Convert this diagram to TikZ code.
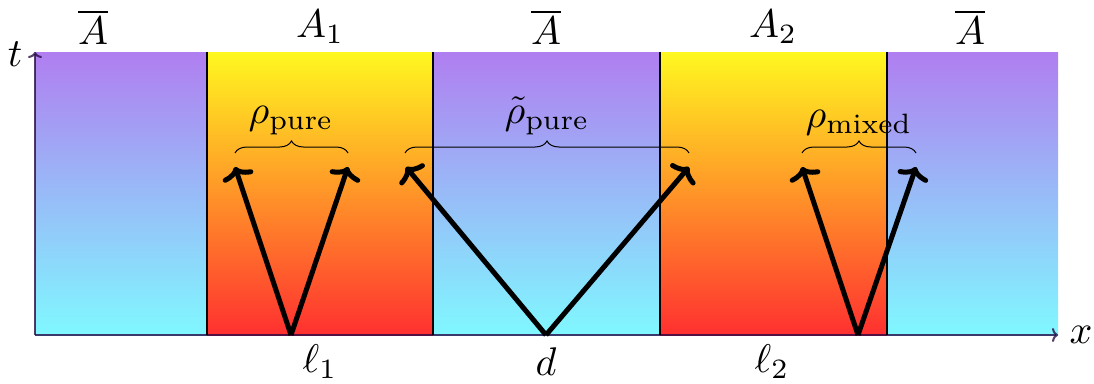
\documentclass[tikz,border=0pt]{standalone}
\usepackage{amsmath}
\usetikzlibrary{decorations.pathreplacing,arrows.meta}
\definecolor{abtop}{RGB}{176,126,240}
\definecolor{abbot}{RGB}{128,248,255}
\definecolor{atop}{RGB}{255,248,32}
\definecolor{abot}{RGB}{255,48,48}
\definecolor{axiscol}{RGB}{40,10,70}
\begin{document}
\begin{tikzpicture}[x=1pt,y=-1pt,
  lbl/.style={scale=4, inner sep=0pt},
  abar/.style={top color=abtop, bottom color=abbot, draw=none},
  areg/.style={top color=atop, bottom color=abot, draw=none},
  wall/.style={line width=2pt, black},
  axisline/.style={line width=2pt, axiscol, draw opacity=0.8, -{To[length=6pt,width=14pt]}},
  ray/.style={line width=5pt, black, -{To[length=12pt,width=32pt]}},
  brc/.style={decorate, decoration={brace, amplitude=12pt}, line width=1pt}
]
\useasboundingbox (0,0) rectangle (1094,383);
% regions
\shade[abar] (35,52) rectangle (207,335);
\shade[areg] (207,52) rectangle (433,335);
\shade[abar] (433,52) rectangle (660,335);
\shade[areg] (660,52) rectangle (887,335);
\shade[abar] (887,52) rectangle (1058,335);
% axes
\coordinate (O) at (35,335);
\coordinate (xend) at (1058,335);
\coordinate (tend) at (35,52);
\draw[axisline] (O) -- (xend);
\draw[axisline] (O) -- (tend);
\node[lbl] (xl) at (1081,335) {$x$};
\node[lbl] (tl) at (15,54) {$t$};
% walls
\coordinate (w1t) at (207,52); \coordinate (w1b) at (207,335);
\coordinate (w2t) at (433,52); \coordinate (w2b) at (433,335);
\coordinate (w3t) at (660,52); \coordinate (w3b) at (660,335);
\coordinate (w4t) at (887,52); \coordinate (w4b) at (887,335);
\draw[wall] (w1t) -- (w1b);
\draw[wall] (w2t) -- (w2b);
\draw[wall] (w3t) -- (w3b);
\draw[wall] (w4t) -- (w4b);
% rays
\coordinate (s1) at (291,335);
\coordinate (s2) at (546,335);
\coordinate (s3) at (858,335);
\coordinate (e1l) at (235,167); \coordinate (e1r) at (348,167);
\coordinate (e2l) at (406,167); \coordinate (e2r) at (689,167);
\coordinate (e3l) at (802,167); \coordinate (e3r) at (916,167);
\draw[ray] (s1) -- (e1l);
\draw[ray] (s1) -- (e1r);
\draw[ray] (s2) -- (e2l);
\draw[ray] (s2) -- (e2r);
\draw[ray] (s3) -- (e3l);
\draw[ray] (s3) -- (e3r);
% braces
\coordinate (b1l) at (235,153); \coordinate (b1r) at (348,153);
\coordinate (b2l) at (405,153); \coordinate (b2r) at (689,153);
\coordinate (b3l) at (802,153); \coordinate (b3r) at (916,153);
\draw[brc] (b1l) -- (b1r);
\draw[brc] (b2l) -- (b2r);
\draw[brc] (b3l) -- (b3r);
\node[lbl, anchor=south] (r1) at (291,136) {$\rho_{\text{pure}}$};
\node[lbl, anchor=south] (r2) at (547,136) {$\tilde{\rho}_{\text{pure}}$};
\node[lbl, anchor=south] (r3) at (859,136) {$\rho_{\text{mixed}}$};
% bottom labels
\node[lbl] (l1) at (320,362) {$\ell_1$};
\node[lbl] (dl) at (546,362) {$d$};
\node[lbl] (l2) at (772,362) {$\ell_2$};
% top labels
\node[lbl] (a0) at (93,27) {$\overline{A}$};
\node[lbl] (a1) at (320,27) {$A_1$};
\node[lbl] (a2) at (546,27) {$\overline{A}$};
\node[lbl] (a3) at (773,27) {$A_2$};
\node[lbl] (a4) at (970,27) {$\overline{A}$};
\end{tikzpicture}
\end{document}
